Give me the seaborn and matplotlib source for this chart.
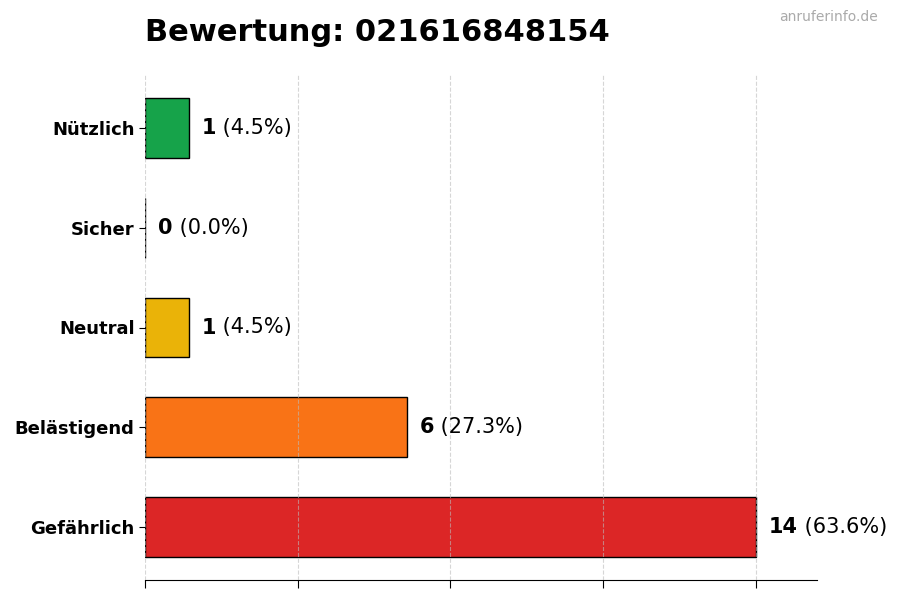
import numpy as np
import matplotlib
matplotlib.use("Agg")
import matplotlib.pyplot as plt
import seaborn as sns

# Daten
categories = ["Nützlich", "Sicher", "Neutral", "Belästigend", "Gefährlich"]
counts = [1, 0, 1, 6, 14]
colors = ["#16a34a", "#6b7280", "#eab308", "#f97316", "#dc2626"]
number = "021616848154"

total = sum(counts)
percents = [c / total * 100 for c in counts]

sns.set_style("white")
plt.rcParams["font.family"] = ["DejaVu Sans"]
plt.rcParams["text.color"] = "black"
plt.rcParams["axes.labelcolor"] = "black"
plt.rcParams["xtick.color"] = "black"
plt.rcParams["ytick.color"] = "black"

fig = plt.figure(figsize=(9, 6), dpi=100)
ax = fig.add_axes([145 / 900, 20 / 600, 672 / 900, 505 / 600])

sns.barplot(x=counts, y=categories, hue=categories, palette=colors, legend=False,
            orient="h", width=0.6, saturation=1, edgecolor="black", linewidth=1, ax=ax)

xmax = max(counts) * 1.1
ax.set_xlim(0, xmax)
ax.set_ylim(len(categories) - 0.47, -0.53)
ax.set_xticks(np.linspace(0, max(counts), 5))
ax.set_xticklabels([])
ax.set_xlabel("")
ax.set_ylabel("")

ax.grid(axis="x", linestyle="--", color="#bbbbbb", alpha=0.6, linewidth=0.8, zorder=3)
ax.set_axisbelow(False)
for s in ["top", "right", "left"]:
    ax.spines[s].set_visible(False)
ax.spines["bottom"].set_color("black")
ax.tick_params(axis="x", bottom=True, length=6, color="black")
ax.tick_params(axis="y", left=True, length=4, color="black", labelsize=13)
for lbl in ax.get_yticklabels():
    lbl.set_fontweight("bold")

# Wertebeschriftungen
for i, (c, p) in enumerate(zip(counts, percents)):
    t = ax.text(c + 0.3, i, f"{c}", fontsize=15, fontweight="bold",
                va="center", ha="left", color="black")
    ax.annotate(f" ({p:.1f}%)", xy=(1, 0), xycoords=t, fontsize=15,
                va="bottom", ha="left", color="black")

fig.text(145 / 900, 1 - 41 / 600, f"Bewertung: {number}", fontsize=22,
         fontweight="bold", va="baseline", ha="left", color="black")
fig.text(878 / 900, 1 - 17 / 600, "anruferinfo.de", fontsize=10,
         color="#aaaaaa", va="center", ha="right")

fig.savefig("out.png", dpi=100)
